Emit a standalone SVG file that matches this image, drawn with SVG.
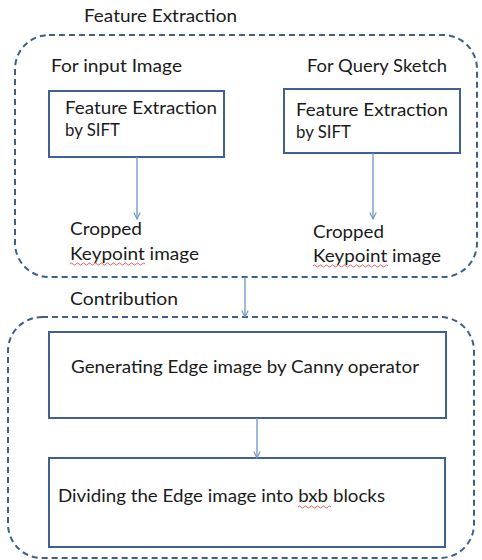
<svg xmlns="http://www.w3.org/2000/svg" width="482" height="560" viewBox="0 0 482 560">
  <style>
    .grp { fill: none; stroke: #3e5f8a; stroke-width: 2; stroke-dasharray: 6 4; }
    .box { fill: #ffffff; stroke: #3f6090; stroke-width: 2; }
    .lbl { font-family: Lato, "Liberation Sans", Arial, sans-serif; font-size: 17px; fill: #1a1a1a; }
    .edge { stroke: #6f93c6; stroke-width: 1.3; fill: none; }
    .squig { stroke: #e05050; stroke-width: 0.9; fill: none; }
  </style>
  <defs>
    <marker id="arrow" viewBox="0 0 10 10" refX="9" refY="5" markerWidth="8" markerHeight="8" orient="auto" markerUnits="userSpaceOnUse">
      <path d="M1,1 L9,5 L1,9" fill="none" stroke="#6f93c6" stroke-width="1.4"/>
    </marker>
  </defs>
  <rect width="482" height="560" fill="#ffffff"/>

  <!-- Feature extraction group -->
  <g id="feature-extraction">
    <rect class="grp" x="15" y="35" width="462" height="242" rx="34" ry="34"/>
    <text class="lbl" x="84" y="22" textLength="153" lengthAdjust="spacingAndGlyphs">Feature Extraction</text>
    <text class="lbl" x="51" y="72" textLength="131" lengthAdjust="spacingAndGlyphs">For input Image</text>
    <text class="lbl" x="307" y="72" textLength="140" lengthAdjust="spacingAndGlyphs">For Query Sketch</text>
  </g>

  <g id="sift-input">
    <rect class="box" x="49" y="91" width="175" height="66"/>
    <text class="lbl" x="65" y="114" textLength="152" lengthAdjust="spacingAndGlyphs">Feature Extraction</text>
    <text class="lbl" x="65" y="136" textLength="55" lengthAdjust="spacingAndGlyphs">by SIFT</text>
  </g>

  <g id="sift-query">
    <rect class="box" x="284" y="89" width="176" height="64"/>
    <text class="lbl" x="296" y="116" textLength="152" lengthAdjust="spacingAndGlyphs">Feature Extraction</text>
    <text class="lbl" x="296" y="138" textLength="55" lengthAdjust="spacingAndGlyphs">by SIFT</text>
  </g>

  <g id="keypoint-input">
    <text class="lbl" x="70" y="235" textLength="72" lengthAdjust="spacingAndGlyphs">Cropped</text>
    <text class="lbl" x="70" y="260" textLength="129" lengthAdjust="spacingAndGlyphs">Keypoint image</text>
    <path class="squig" d="M70,264 q1.5,-2 3,0 t3,0 t3,0 t3,0 t3,0 t3,0 t3,0 t3,0 t3,0 t3,0 t3,0 t3,0 t3,0 t3,0 t3,0 t3,0 t3,0 t3,0 t3,0 t3,0 t3,0 t3,0 t3,0 t3,0 t3,0"/>
  </g>

  <g id="keypoint-query">
    <text class="lbl" x="313" y="238" textLength="71" lengthAdjust="spacingAndGlyphs">Cropped</text>
    <text class="lbl" x="313" y="262" textLength="128" lengthAdjust="spacingAndGlyphs">Keypoint image</text>
    <path class="squig" d="M313,266 q1.5,-2 3,0 t3,0 t3,0 t3,0 t3,0 t3,0 t3,0 t3,0 t3,0 t3,0 t3,0 t3,0 t3,0 t3,0 t3,0 t3,0 t3,0 t3,0 t3,0 t3,0 t3,0 t3,0 t3,0 t3,0 t3,0"/>
  </g>

  <!-- Contribution group -->
  <g id="contribution">
    <rect class="grp" x="8" y="317" width="466" height="241" rx="34" ry="34"/>
    <text class="lbl" x="70" y="305" textLength="108" lengthAdjust="spacingAndGlyphs">Contribution</text>
  </g>

  <g id="canny">
    <rect class="box" x="49" y="332" width="397" height="86"/>
    <text class="lbl" x="71" y="373" textLength="348" lengthAdjust="spacingAndGlyphs">Generating Edge image by Canny operator</text>
  </g>

  <g id="blocks">
    <rect class="box" x="49" y="458" width="396" height="89"/>
    <text class="lbl" x="58" y="502" textLength="327" lengthAdjust="spacingAndGlyphs">Dividing the Edge image into bxb blocks</text>
    <path class="squig" d="M298,507 q1.5,-2 3,0 t3,0 t3,0 t3,0 t3,0 t3,0 t3,0 t3,0 t3,0 t3,0 t3,0"/>
  </g>

  <!-- Connectors -->
  <g id="connectors">
    <line class="edge" x1="137" y1="157" x2="137" y2="219" marker-end="url(#arrow)"/>
    <line class="edge" x1="373" y1="153" x2="373" y2="219" marker-end="url(#arrow)"/>
    <line class="edge" x1="245" y1="277" x2="245" y2="317" marker-end="url(#arrow)"/>
    <line class="edge" x1="257" y1="418" x2="257" y2="458" marker-end="url(#arrow)"/>
  </g>
</svg>
